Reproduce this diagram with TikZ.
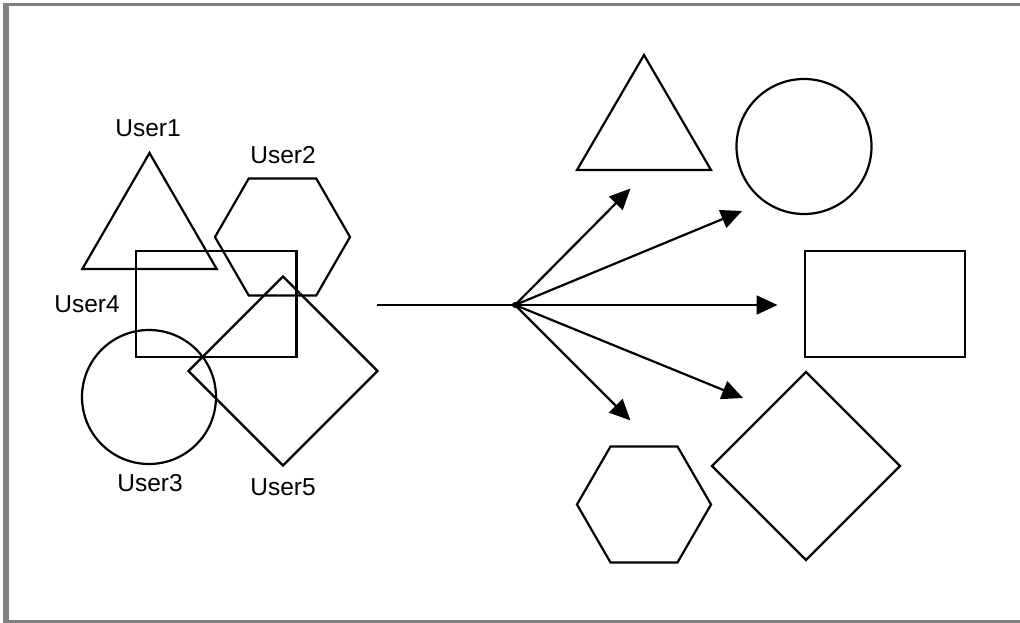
\documentclass[tikz,border=0pt]{standalone}
\usepackage{fontspec}
\setmainfont{Liberation Sans}
\usetikzlibrary{arrows.meta}
\definecolor{framegray}{HTML}{808080}
\tikzset{
  shapeline/.style={draw=black, line width=2.2pt, line join=miter},
  userlabel/.style={inner sep=0pt, font=\fontsize{24.5}{28}\selectfont},
  fanarrow/.style={draw=black, line width=2.2pt, -{Triangle[length=21pt, width=19pt]}},
}
\begin{document}
\begin{tikzpicture}[x=1pt, y=-1pt]
\useasboundingbox (0,0) rectangle (1020,623);
\fill[white] (0,0) rectangle (1020,623);
% frame
\fill[framegray] (3,3) rectangle (1020,6.5);
\fill[framegray] (3,3) rectangle (8.5,623);
\fill[framegray] (3,619.5) rectangle (1020,623);

% left cluster
\draw[shapeline] (149.5,153) -- (216.7,269) -- (82.3,269) -- cycle;
\draw[shapeline] (350,237) -- (316.25,178.5) -- (248.75,178.5) -- (215,237) -- (248.75,295.5) -- (316.25,295.5) -- cycle;
\draw[shapeline] (136,251) rectangle (296.5,357);
\draw[shapeline] (149,397) circle[radius=67];
\draw[shapeline] (283,276.5) -- (377.5,371) -- (283,465.5) -- (188.5,371) -- cycle;

\node[userlabel] (u1) at (148,128) {User1};
\node[userlabel] (u2) at (283,155) {User2};
\node[userlabel] (u4) at (87,304) {User4};
\node[userlabel] (u3) at (150,483) {User3};
\node[userlabel] (u5) at (283,487) {User5};

% fan
\coordinate (src) at (377,305);
\coordinate (hub) at (515,305);
\coordinate (t1) at (630.5,188.5);
\coordinate (t2) at (742,211);
\coordinate (t3) at (777.5,305);
\coordinate (t4) at (743,398);
\coordinate (t5) at (630.5,420.5);
\draw[line width=2.2pt] (src) -- (hub);
\fill (hub) circle[radius=3];
\foreach \t in {t1,t2,t3,t4,t5} \draw[fanarrow] (hub) -- (\t);

% right shapes
\draw[shapeline] (644,55) -- (711,170) -- (577,170) -- cycle;
\draw[shapeline] (804,146.5) circle[radius=67.5];
\draw[shapeline] (805,251) rectangle (965,357);
\draw[shapeline] (711,504.5) -- (677.5,446.5) -- (610.5,446.5) -- (577,504.5) -- (610.5,562.5) -- (677.5,562.5) -- cycle;
\draw[shapeline] (806,372) -- (900,466) -- (806,560) -- (712,466) -- cycle;
\end{tikzpicture}
\end{document}
